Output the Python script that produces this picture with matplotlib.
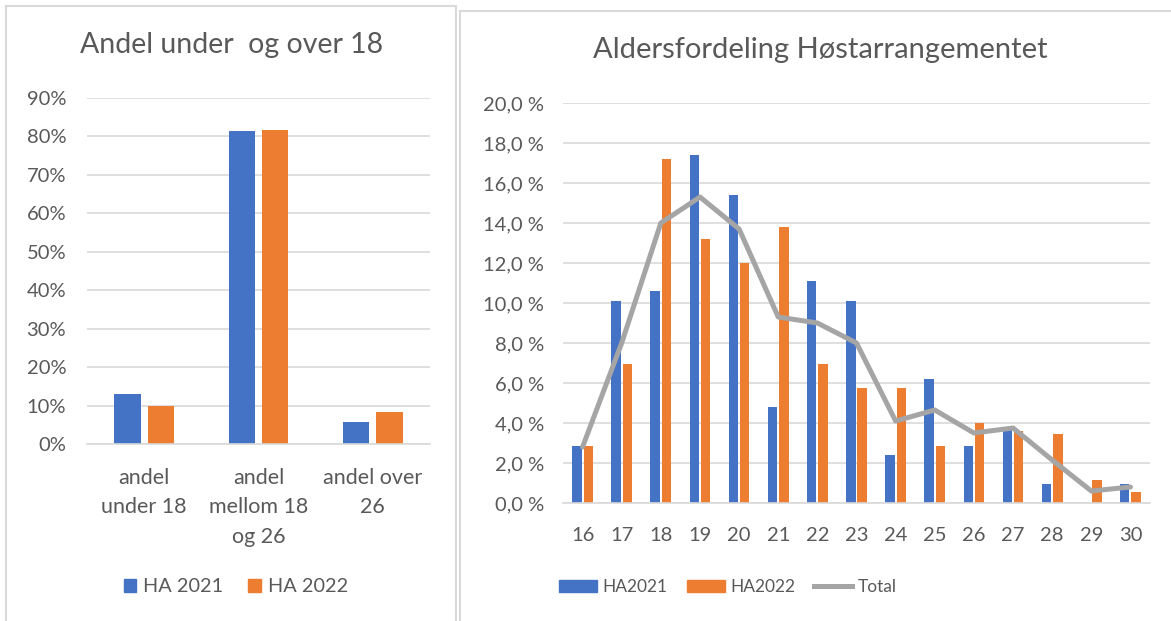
import matplotlib
matplotlib.use("Agg")
import matplotlib.pyplot as plt
import numpy as np
from matplotlib.patches import Patch, Rectangle
from matplotlib.lines import Line2D
from matplotlib.ticker import FuncFormatter

BLUE = "#4472C4"
ORANGE = "#ED7D31"
GREY_LINE = "#A5A5A5"
TEXT = "#595959"
GRID = "#D9D9D9"

# left chart: share under / between / over
share_groups = ["andel\nunder 18", "andel\nmellom 18\nog 26", "andel over\n26"]
share_2021 = [13.0, 81.3, 5.8]
share_2022 = [9.9, 81.8, 8.3]

# right chart: age distribution
ages = [16, 17, 18, 19, 20, 21, 22, 23, 24, 25, 26, 27, 28, 29, 30]
ha2021 = [2.83, 10.1, 10.6, 17.4, 15.4, 4.8, 11.1, 10.1, 2.4, 6.2, 2.83, 3.8, 0.93, 0.0, 0.93]
ha2022 = [2.83, 6.94, 17.2, 13.2, 12.0, 13.8, 6.94, 5.74, 5.74, 2.83, 4.0, 3.6, 3.43, 1.13, 0.53]
total = [2.8, 8.0, 14.0, 15.3, 13.7, 9.3, 9.0, 8.0, 4.1, 4.65, 3.5, 3.75, 2.15, 0.6, 0.8]

plt.rcParams["font.family"] = ["Lato", "DejaVu Sans"]

W, H = 1171, 621
fig = plt.figure(figsize=(W / 100, H / 100), dpi=100)


def fx(px):
    return px / W


def fy(py):
    return 1 - py / H


# panel frames
fig.patches.append(Rectangle((fx(6), fy(640)), fx(450), fy(6) - fy(640), transform=fig.transFigure,
                             fill=False, edgecolor=GRID, linewidth=1.5))
fig.patches.append(Rectangle((fx(459.5), fy(640)), fx(760), fy(11) - fy(640), transform=fig.transFigure,
                             fill=False, edgecolor=GRID, linewidth=1.5))


def style_axes(ax, ypad):
    for side in ["top", "right", "left"]:
        ax.spines[side].set_visible(False)
    ax.spines["bottom"].set_color(GRID)
    ax.spines["bottom"].set_linewidth(1.2)
    ax.grid(axis="y", color=GRID, linewidth=1.2)
    ax.set_axisbelow(True)
    ax.tick_params(axis="both", length=0, colors=TEXT)
    ax.tick_params(axis="y", pad=ypad, labelsize=14.5)


# ---- left chart
ax1 = fig.add_axes([fx(87), fy(444), fx(430 - 87), fy(98) - fy(444)])
x1 = np.arange(len(share_groups))
ax1.bar(x1 - 0.145, share_2021, width=0.23, color=BLUE, label="HA 2021")
ax1.bar(x1 + 0.145, share_2022, width=0.23, color=ORANGE, label="HA 2022")
ax1.set_xlim(-0.5, len(share_groups) - 0.5)
ax1.set_ylim(0, 90)
ax1.set_yticks(np.arange(0, 91, 10))
ax1.yaxis.set_major_formatter(FuncFormatter(lambda v, p: f"{v:.0f}%"))
ax1.set_xticks(x1)
ax1.set_xticklabels(share_groups, fontsize=15.5, linespacing=1.61)
style_axes(ax1, 15)
ax1.tick_params(axis="x", pad=17)
fig.text(fx(232), fy(45), "Andel under  og over 18", ha="center", va="center", fontsize=20.5, color=TEXT)

fig.legend(
    handles=[Patch(color=BLUE, label="HA 2021"), Patch(color=ORANGE, label="HA 2022")],
    loc="center", bbox_to_anchor=(fx(236), fy(587)), ncol=2, frameon=False,
    fontsize=14.3, handlelength=0.65, handleheight=0.65, handletextpad=0.35, columnspacing=1.25,
    labelcolor=TEXT,
)

# ---- right chart
ax2 = fig.add_axes([fx(563), fy(503), fx(1150 - 563), fy(103) - fy(503)])
x2 = np.arange(len(ages))
ax2.bar(x2 - 0.145, ha2021, width=0.24, color=BLUE, label="HA2021")
ax2.bar(x2 + 0.145, ha2022, width=0.24, color=ORANGE, label="HA2022")
ax2.plot(x2, total, color=GREY_LINE, linewidth=3.6, label="Total", solid_capstyle="round")
ax2.set_xlim(-0.5, len(ages) - 0.5)
ax2.set_ylim(0, 20)
ax2.set_yticks(np.arange(0, 21, 2))
ax2.yaxis.set_major_formatter(FuncFormatter(lambda v, p: f"{v:.1f} %".replace(".", ",")))
ax2.set_xticks(x2)
ax2.set_xticklabels([str(a) for a in ages])
style_axes(ax2, 13.5)
ax2.tick_params(axis="x", pad=17, labelsize=14.5)
fig.text(fx(820), fy(50), "Aldersfordeling Høstarrangementet", ha="center", va="center", fontsize=21, color=TEXT)

fig.legend(
    handles=[Patch(color=BLUE, label="HA2021"), Patch(color=ORANGE, label="HA2022"),
             Line2D([0], [0], color=GREY_LINE, linewidth=3.6, label="Total")],
    loc="center", bbox_to_anchor=(fx(728), fy(587)), ncol=3, frameon=False,
    fontsize=12.5, handlelength=2.2, handleheight=0.75, handletextpad=0.3, columnspacing=1.1,
    labelcolor=TEXT,
)

fig.savefig("out.png", dpi=100)
